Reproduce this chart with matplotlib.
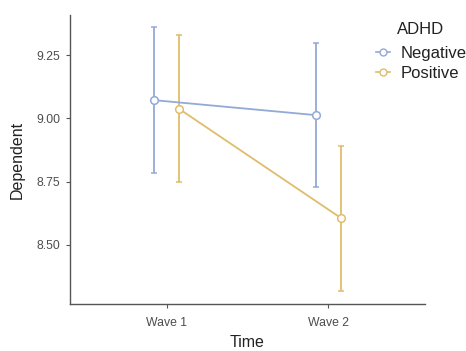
import matplotlib.pyplot as plt
from matplotlib.lines import Line2D

plt.rcParams['font.family'] = ['Liberation Sans', 'DejaVu Sans']

# Data
waves = ['Wave 1', 'Wave 2']
groups = ['Negative', 'Positive']
means = {'Negative': [9.072, 9.013], 'Positive': [9.037, 8.607]}
lower = {'Negative': [8.784, 8.728], 'Positive': [8.750, 8.318]}
upper = {'Negative': [9.360, 9.298], 'Positive': [9.328, 8.890]}
colors = {'Negative': '#93a9d6', 'Positive': '#dfbd6a'}
dodge = {'Negative': -0.078, 'Positive': 0.078}

fig = plt.figure(figsize=(4.66, 3.51), dpi=100)
ax = fig.add_axes([0.150, 0.134, 0.762, 0.823])

for g in groups:
    xs = [i + dodge[g] for i in range(len(waves))]
    m = means[g]
    yerr = [[m[i] - lower[g][i] for i in range(2)], [upper[g][i] - m[i] for i in range(2)]]
    ax.errorbar(xs, m, yerr=yerr, color=colors[g], linewidth=1.3, elinewidth=1.3,
                capsize=2.5, capthick=1.3, marker='o', markersize=5.5,
                markerfacecolor='white', markeredgecolor=colors[g], markeredgewidth=1.1,
                zorder=3)

ax.set_xlim(-0.6, 1.6)
ax.set_ylim(8.267, 9.408)
ax.set_xticks(range(len(waves)))
ax.set_xticklabels(waves)
ax.set_yticks([8.50, 8.75, 9.00, 9.25])
ax.set_yticklabels(['8.50', '8.75', '9.00', '9.25'])

for s in ['top', 'right']:
    ax.spines[s].set_visible(False)
for s in ['left', 'bottom']:
    ax.spines[s].set_color('#555555')
    ax.spines[s].set_linewidth(1.0)
ax.tick_params(colors='#555555', labelcolor='#4d4d4d', labelsize=8.8, length=3, width=0.8)
ax.tick_params(axis='x', pad=6.5)
ax.tick_params(axis='y', pad=4)

ax.set_xlabel('Time', fontsize=11.5, color='#222222', labelpad=4)
ax.set_ylabel('Dependent', fontsize=11.5, color='#222222', labelpad=8)

# legend
fig.text(397 / 466, 1 - 30 / 351, 'ADHD', fontsize=12, color='#222222', ha='left', va='center')
handles = [Line2D([], [], color=colors[g], marker='o', markersize=5, markerfacecolor='white',
                  markeredgecolor=colors[g], linewidth=1.2) for g in groups]
leg = fig.legend(handles, groups, loc='upper left', bbox_to_anchor=(376.3 / 466, 1 - 46 / 351),
                 frameon=False, fontsize=12, handlelength=0.8, handletextpad=0.68,
                 labelspacing=0.32, borderpad=0, borderaxespad=0)
for t in leg.get_texts():
    t.set_color('#222222')

fig.savefig('out.png', dpi=100)
